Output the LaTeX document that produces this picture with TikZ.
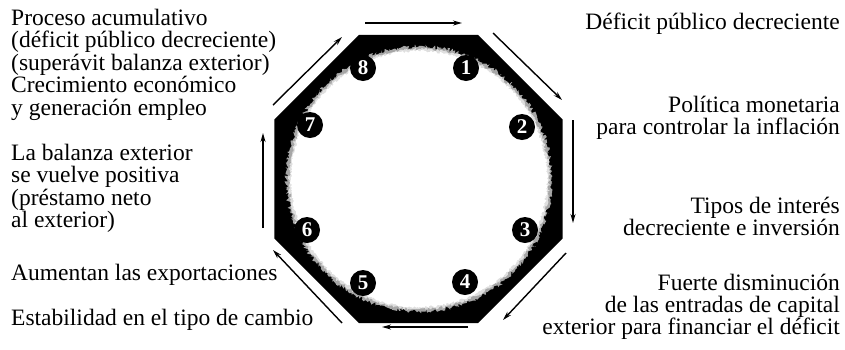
\documentclass[tikz,border=0pt]{standalone}
\usepackage{fontspec}
\setmainfont{Liberation Serif}
\usetikzlibrary{arrows.meta,decorations.pathmorphing,calc}
\begin{document}
\begin{tikzpicture}[x=1pt,y=-1pt,
  txt/.style={inner sep=0pt,font=\fontsize{23.5}{23.5}\selectfont},
  lt/.style={txt,anchor=base west},
  rt/.style={txt,anchor=base east},
  num/.style={circle,fill=black,minimum size=26pt,inner sep=0pt,text=white,font=\fontsize{21}{21}\selectfont\bfseries},
  flow/.style={line width=1.4pt,-{Stealth[length=9pt,width=5pt]}}]
\useasboundingbox (0,0) rectangle (845,349);
\coordinate (c) at (418.5,179);
% octagon
\foreach \i/\a in {1/-67.5,2/-22.5,3/22.5,4/67.5,5/112.5,6/157.5,7/202.5,8/247.5}
  \coordinate (v\i) at ($(c)+(\a:155.9)$);
\fill[black] (v1)--(v2)--(v3)--(v4)--(v5)--(v6)--(v7)--(v8)--cycle;
\pgfmathsetseed{7}
\fill[gray!70,decorate,decoration={random steps,segment length=1.2pt,amplitude=2pt}] (419,179) circle (132.5pt);
\fill[gray!25,decorate,decoration={random steps,segment length=1.2pt,amplitude=1.5pt}] (419,179) circle (130pt);
\fill[white,decorate,decoration={random steps,segment length=1.2pt,amplitude=1.2pt}] (419,179) circle (128pt);
% numbers
\node[num] (n1) at (466,68) {1};
\node[num] (n2) at (522,127) {2};
\node[num] (n3) at (525,230) {3};
\node[num] (n4) at (465,282) {4};
\node[num] (n5) at (363,283) {5};
\node[num] (n6) at (307,230) {6};
\node[num] (n7) at (310,125) {7};
\node[num] (n8) at (363,68) {8};
% arrows
\coordinate (a1s) at (365,23);  \coordinate (a1e) at (462,23);
\coordinate (a2s) at (493,33);  \coordinate (a2e) at (562,100);
\coordinate (a3s) at (573,120); \coordinate (a3e) at (573,223);
\coordinate (a4s) at (566,253); \coordinate (a4e) at (503,320);
\coordinate (a5s) at (468,327); \coordinate (a5e) at (382,327);
\coordinate (a6s) at (342,323); \coordinate (a6e) at (273,250);
\coordinate (a7s) at (263,228); \coordinate (a7e) at (263,133);
\coordinate (a8s) at (273,105); \coordinate (a8e) at (342,37);
\foreach \k in {1,...,8} \draw[flow] (a\k s) -- (a\k e);
% left texts
\node[lt] (l1) at (11,25) {Proceso acumulativo};
\node[lt] (l2) at (11,47.5) {(déficit público decreciente)};
\node[lt] (l3) at (11,70) {(superávit balanza exterior)};
\node[lt] (l4) at (11,92.5) {Crecimiento económico};
\node[lt] (l5) at (11,115) {y generación empleo};
\node[lt] (l6) at (11,160) {La balanza exterior};
\node[lt] (l7) at (11,182.5) {se vuelve positiva};
\node[lt] (l8) at (11,205) {(préstamo neto};
\node[lt] (l9) at (11,227.5) {al exterior)};
\node[lt] (l10) at (11,280) {Aumentan las exportaciones};
\node[lt] (l11) at (11,325) {Estabilidad en el tipo de cambio};
% right texts
\node[rt] (r1) at (840,29) {Déficit público decreciente};
\node[rt] (r2) at (840,112) {Política monetaria};
\node[rt] (r3) at (840,134) {para controlar la inflación};
\node[rt] (r4) at (840,213) {Tipos de interés};
\node[rt] (r5) at (840,235) {decreciente e inversión};
\node[rt] (r6) at (840,290) {Fuerte disminución};
\node[rt] (r7) at (840,312) {de las entradas de capital};
\node[rt] (r8) at (840,334) {exterior para financiar el déficit};
\end{tikzpicture}
\end{document}
